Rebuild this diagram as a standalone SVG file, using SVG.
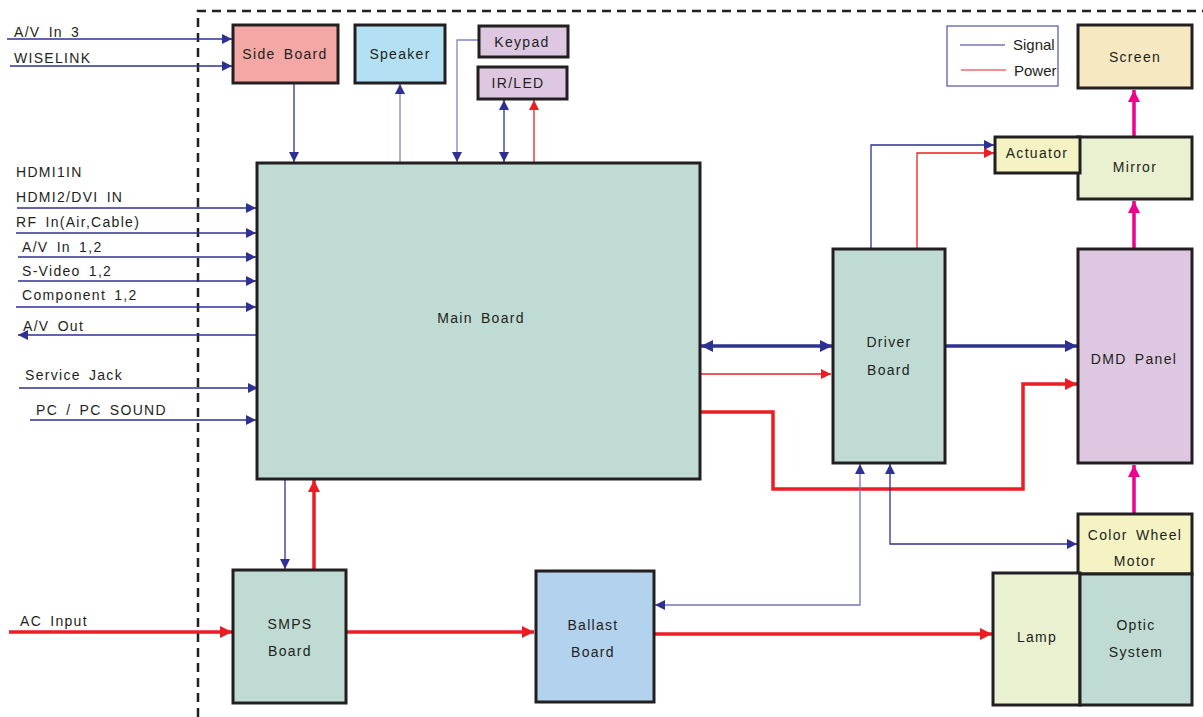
<svg xmlns="http://www.w3.org/2000/svg" width="1203" height="717" viewBox="0 0 1203 717">
<defs>
<style>
.box{stroke:#231f20;stroke-width:3}
.t{font-family:"Liberation Sans",Arial,sans-serif;font-size:14px;fill:#231f20;letter-spacing:1.3px;word-spacing:3px}
.tc{text-anchor:middle}
.sig{stroke:#2e3192;stroke-width:1.3;fill:none}
.sigl{stroke:#7f86c4;stroke-width:1.3;fill:none}
.sigb{stroke:#2e3192;stroke-width:3.5;fill:none}
.pw{stroke:#ed1c24;stroke-width:1.3;fill:none}
.pwb{stroke:#ed1c24;stroke-width:3.5;fill:none}
.mg{stroke:#ec008c;stroke-width:3.5;fill:none}
</style>
<marker id="ab" viewBox="0 0 10 10" refX="10" refY="5" markerWidth="16" markerHeight="10" markerUnits="userSpaceOnUse" orient="auto-start-reverse"><path d="M0,0L10,5L0,10z" fill="#2e3192"/></marker>
<marker id="abB" viewBox="0 0 10 10" refX="10" refY="5" markerWidth="18" markerHeight="12" markerUnits="userSpaceOnUse" orient="auto-start-reverse"><path d="M0,0L10,5L0,10z" fill="#2e3192"/></marker>
<marker id="ar" viewBox="0 0 10 10" refX="10" refY="5" markerWidth="16" markerHeight="10" markerUnits="userSpaceOnUse" orient="auto-start-reverse"><path d="M0,0L10,5L0,10z" fill="#ed1c24"/></marker>
<marker id="arB" viewBox="0 0 10 10" refX="10" refY="5" markerWidth="18" markerHeight="12" markerUnits="userSpaceOnUse" orient="auto-start-reverse"><path d="M0,0L10,5L0,10z" fill="#ed1c24"/></marker>
<marker id="am" viewBox="0 0 10 10" refX="10" refY="5" markerWidth="16" markerHeight="12" markerUnits="userSpaceOnUse" orient="auto-start-reverse"><path d="M0,0L10,5L0,10z" fill="#ec008c"/></marker>
</defs>
<rect width="1203" height="717" fill="#fff"/>
<path d="M198,717V11H1203" fill="none" stroke="#231f20" stroke-width="2.5" stroke-dasharray="9,6"/>

<g id="legend">
<rect x="947" y="26" width="111" height="60" fill="#fff" stroke="#2e3192" stroke-width="1"/>
<line x1="960" y1="45" x2="1005" y2="45" stroke="#2e3192" stroke-width="1"/>
<line x1="961" y1="70" x2="1006" y2="70" stroke="#ed1c24" stroke-width="1"/>
<text x="1013" y="50" style="font-family:'Liberation Sans',Arial,sans-serif;font-size:15px;fill:#231f20">Signal</text>
<text x="1014" y="76" style="font-family:'Liberation Sans',Arial,sans-serif;font-size:15px;fill:#231f20">Power</text>
</g>

<g id="connectors">
<line x1="7" y1="39" x2="232" y2="39" class="sig" marker-end="url(#ab)"/>
<line x1="10" y1="66" x2="232" y2="66" class="sig" marker-end="url(#ab)"/>
<line x1="294" y1="83" x2="294" y2="162" class="sig" marker-end="url(#ab)"/>
<line x1="400" y1="163" x2="400" y2="84" class="sigl" marker-end="url(#ab)"/>
<path d="M479,40H457V162" class="sigl" marker-end="url(#ab)"/>
<line x1="504" y1="100" x2="504" y2="162" class="sig" marker-start="url(#ab)" marker-end="url(#ab)"/>
<line x1="534" y1="163" x2="534" y2="100" class="pw" marker-end="url(#ar)"/>

<line x1="17" y1="208" x2="256" y2="208" class="sig" marker-end="url(#ab)"/>
<line x1="16" y1="233" x2="256" y2="233" class="sig" marker-end="url(#ab)"/>
<line x1="18" y1="257" x2="256" y2="257" class="sig" marker-end="url(#ab)"/>
<line x1="18" y1="281" x2="256" y2="281" class="sig" marker-end="url(#ab)"/>
<line x1="16" y1="307" x2="256" y2="307" class="sig" marker-end="url(#ab)"/>
<line x1="257" y1="335" x2="18" y2="335" class="sig" marker-end="url(#ab)"/>
<line x1="19" y1="388" x2="258" y2="388" class="sig" marker-end="url(#ab)"/>
<line x1="30" y1="420" x2="256" y2="420" class="sig" marker-end="url(#ab)"/>

<line x1="701" y1="346" x2="832" y2="346" class="sigb" marker-start="url(#abB)" marker-end="url(#abB)"/>
<line x1="701" y1="374" x2="831" y2="374" class="pw" marker-end="url(#ar)"/>
<path d="M701,412H773V489H1023V384H1077" class="pwb" marker-end="url(#arB)"/>
<line x1="946" y1="346" x2="1077" y2="346" class="sigb" marker-end="url(#abB)"/>

<path d="M871,249V145H994" class="sig" marker-end="url(#ab)"/>
<path d="M917,249V153H994" class="pw" marker-end="url(#ar)"/>

<path d="M860,464V605H655" class="sigl" marker-start="url(#ab)" marker-end="url(#ab)" style="stroke:#6f77c0"/>
<path d="M890,464V544H1077" class="sig" marker-start="url(#ab)" marker-end="url(#ab)"/>

<line x1="285" y1="480" x2="285" y2="569" class="sig" marker-end="url(#ab)"/>
<line x1="314" y1="570" x2="314" y2="480" class="pwb" marker-end="url(#arB)"/>

<line x1="9" y1="632" x2="232" y2="632" class="pwb" marker-end="url(#arB)"/>
<line x1="347" y1="632" x2="534" y2="632" class="pwb" marker-end="url(#arB)"/>
<line x1="655" y1="634" x2="992" y2="634" class="pwb" marker-end="url(#arB)"/>

<line x1="1134" y1="513" x2="1134" y2="465" class="mg" marker-end="url(#am)"/>
<line x1="1134" y1="248" x2="1134" y2="201" class="mg" marker-end="url(#am)"/>
<line x1="1134" y1="136" x2="1134" y2="90" class="mg" marker-end="url(#am)"/>
</g>

<g id="labels">
<text x="14" y="37" class="t">A/V In 3</text>
<text x="14" y="63" class="t">WISELINK</text>
<text x="16" y="177" class="t">HDMI1IN</text>
<text x="16" y="202" class="t">HDMI2/DVI IN</text>
<text x="16" y="227" class="t">RF In(Air,Cable)</text>
<text x="22" y="252" class="t">A/V In 1,2</text>
<text x="22" y="276" class="t">S-Video 1,2</text>
<text x="22" y="300" class="t">Component 1,2</text>
<text x="23" y="331" class="t">A/V Out</text>
<text x="25" y="380" class="t">Service Jack</text>
<text x="36" y="415" class="t">PC / PC SOUND</text>
<text x="20" y="626" class="t">AC Input</text>
</g>

<g id="side-board"><rect x="233" y="25" width="105" height="58" fill="#f4a8a6" class="box"/><text x="285" y="59" class="t tc">Side Board</text></g>
<g id="speaker"><rect x="355" y="25" width="90" height="58" fill="#b3e1f3" class="box"/><text x="400" y="59" class="t tc">Speaker</text></g>
<g id="keypad"><rect x="479" y="26" width="89" height="31" fill="#dec8e1" class="box"/><text x="522" y="47" class="t tc">Keypad</text></g>
<g id="ir-led"><rect x="478" y="67" width="89" height="32" fill="#dec8e1" class="box"/><text x="518" y="88" class="t tc">IR/LED</text></g>
<g id="main-board"><rect x="257" y="163" width="443" height="316" fill="#bfdbd3" class="box"/><text x="481" y="323" class="t tc">Main Board</text></g>
<g id="driver-board"><rect x="833" y="249" width="112" height="214" fill="#bfdbd3" class="box"/><text x="889" y="347" class="t tc">Driver</text><text x="889" y="375" class="t tc">Board</text></g>
<g id="mirror"><rect x="1078" y="137" width="114" height="62" fill="#e9f1d0" class="box"/><text x="1135" y="172" class="t tc">Mirror</text></g>
<g id="actuator"><rect x="995" y="137" width="85" height="36" fill="#f5f3c4" class="box"/><text x="1037" y="158" class="t tc">Actuator</text></g>
<g id="screen"><rect x="1078" y="25" width="114" height="63" fill="#f6e8c1" class="box"/><text x="1135" y="62" class="t tc">Screen</text></g>
<g id="dmd-panel"><rect x="1078" y="249" width="114" height="214" fill="#dec8e1" class="box"/><text x="1134" y="364" class="t tc">DMD Panel</text></g>
<g id="color-wheel"><rect x="1078" y="514" width="114" height="60" fill="#f5f3c4" class="box"/><text x="1135" y="540" class="t tc">Color Wheel</text><text x="1135" y="566" class="t tc">Motor</text></g>
<g id="lamp"><rect x="993" y="573" width="87" height="132" fill="#e9f1d0" class="box"/><text x="1037" y="642" class="t tc">Lamp</text></g>
<g id="optic-system"><rect x="1080" y="574" width="112" height="131" fill="#bfdbd3" class="box"/><text x="1136" y="630" class="t tc">Optic</text><text x="1136" y="657" class="t tc">System</text></g>
<g id="smps-board"><rect x="233" y="570" width="113" height="133" fill="#bfdbd3" class="box"/><text x="290" y="629" class="t tc">SMPS</text><text x="290" y="656" class="t tc">Board</text></g>
<g id="ballast-board"><rect x="536" y="571" width="118" height="131" fill="#b3d2ed" class="box"/><text x="593" y="630" class="t tc">Ballast</text><text x="593" y="657" class="t tc">Board</text></g>
</svg>
